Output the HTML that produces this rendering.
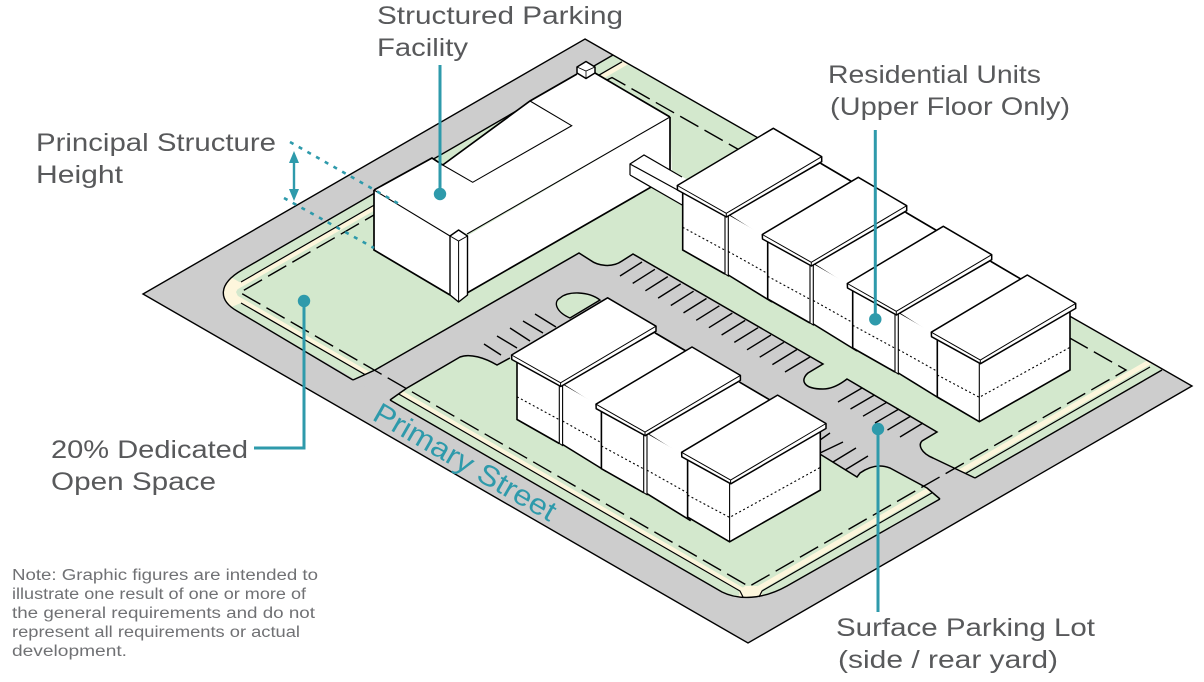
<!DOCTYPE html>
<html><head><meta charset="utf-8"><title>Site diagram</title>
<style>html,body{margin:0;padding:0;background:#fff;width:1204px;height:682px;overflow:hidden}svg{display:block}
text{font-family:"Liberation Sans",sans-serif;fill:#58595b;font-size:25px}
.n{font-size:15.5px;fill:#707174}</style></head><body>
<svg width="1204" height="682" viewBox="0 0 1204 682" xmlns="http://www.w3.org/2000/svg">
<defs>
<clipPath id="gc"><path d="M613,55 L1162,370 L787,586 C762,600 738,600 722,592 L237,311 C218,300 218,284 242,270 Z"/></clipPath>
<g id="low">
<path d="M728.3,214.5 L820,163 L870,192 L778,246 Z" fill="#fff" stroke="#000" stroke-width="1.1"/>
<path d="M728.3,215 L772,240 L772,302 L728.3,275 Z" fill="#fff"/>
<path d="M728.3,275 L772,302" stroke="#000" stroke-width="1.6" fill="none"/>
<path d="M821,163.5 L866,190" stroke="#000" stroke-width="1.6" fill="none"/>
<path d="M728.3,251.5 L772,276" stroke="#000" stroke-width="1.1" stroke-dasharray="2 2.5" fill="none"/>
</g>
<g id="unit">
<path d="M682.7,193 L725,216 L725,274 L682.7,250 Z" fill="#fff"/>
<path d="M682.7,193 V250 L725,274" stroke="#000" stroke-width="1.6" fill="none"/>
<path d="M682.7,227.3 L728.3,252" stroke="#000" stroke-width="1.1" stroke-dasharray="2 2.5" fill="none"/>
<path d="M725,216 V274 L728.3,276 V216" fill="#fff" stroke="#000" stroke-width="1.1"/>
<path d="M677.3,185.5 L773.3,128.3 L821.7,156.7 V161.7 L726.5,217 L677.5,190 Z" fill="#fff" stroke="#000" stroke-width="1.5" stroke-linejoin="round"/>
<path d="M677.3,185.5 L726.3,213.3 L821.7,156.7 M726.3,213.3 V217" stroke="#000" stroke-width="1" fill="none"/>
</g>
<g id="last">
<path d="M683.3,193 L725.3,216 L725.3,275 L683.3,250.3 Z" fill="#fff"/>
<path d="M725.3,216 L816,162 V223.3 L725.3,275 Z" fill="#fff"/>
<path d="M683.3,193 V250.3 L725.3,275 L816,223.3 V162" stroke="#000" stroke-width="1.6" fill="none"/>
<path d="M725.3,216 V275" stroke="#000" stroke-width="1.1"/>
<path d="M683.3,228.3 L725.3,250.6 L816,200.6" stroke="#000" stroke-width="1.1" stroke-dasharray="2 2.5" fill="none"/>
<path d="M677.3,185.5 L773.3,128.3 L821.7,156.7 V161.7 L726.5,217 L677.5,190 Z" fill="#fff" stroke="#000" stroke-width="1.5" stroke-linejoin="round"/>
<path d="M677.3,185.5 L726.3,213.3 L821.7,156.7 M726.3,213.3 V217" stroke="#000" stroke-width="1" fill="none"/>
</g>
</defs>

<!-- parcel -->
<polygon points="585,39 1192,386 748,643 143,294" fill="#cdcdcd"/>
<!-- green strip -->
<path d="M613,55 L1162,370 L787,586 C762,600 738,600 722,592 L237,311 C218,300 218,284 242,270 Z" fill="#d3e8cd"/>
<g clip-path="url(#gc)">
<path d="M640,54.5 L227,292.5 L749,594 L1165,353" fill="none" stroke="#fdf6dc" stroke-width="5" stroke-linejoin="miter"/>
<polygon points="241,283 229,276 218,292 229,308 241,303 236,292" fill="#fdf6dc"/>
<polygon points="740,590 745,586 757,586 762,590 762,600 738,600" fill="#fdf6dc"/>
</g>
<path d="M622,61.8 L241,282 M241,303 L740,591 L743,597 M759,597 L762,591 L1150,367" fill="none" stroke="#000" stroke-width="1.2"/>

<!-- parking -->
<path d="M353,380 L375,370 L579,253 L590,260 C598,266 612,268 622,261 L633,254 L823,364 L808,373 C800,380 803,389 823,389 C830,389 838,386 847,379 L937,432 L922,441 C918,445 921,453 933,458 L975,478 L940,499 L927,488 L890,468 C880,464 870,466 860,473 L857,477 L820,453 L510,358 L497,365 C485,358 470,353 460,357 L407,388 L390,400 Z" fill="#cdcdcd"/>
<path d="M353,380 L375,370 L579,253 L590,260 C598,266 612,268 622,261 L633,254 L823,364 L808,373 C800,380 803,389 823,389 C830,389 838,386 847,379 L937,432 L922,441 C918,445 921,453 933,458 L975,478 M940,499 L927,488 L890,468 C880,464 870,466 860,473 L857,477 L815,451 M510,358 L497,365 C485,358 470,353 460,357 L407,388 L390,400" fill="none" stroke="#000" stroke-width="1.5"/>
<path d="M570,318 C556,312 553,302 560,298 C568,291 588,291 600,300 Z" fill="#d3e8cd" stroke="#000" stroke-width="1.4"/>
<path d="M620,276L642,262M632.7,283.4L654.9,269.3M645.4,290.8L667.8,276.6M658.1,298.1L680.7,283.9M670.8,305.5L693.6,291.2M683.5,312.9L706.5,298.5M696.2,320.3L719.4,305.8M708.9,327.7L732.3,313.1M721.6,335L745.2,320.4M734.3,342.4L758.1,327.7M747,349.8L771,335M759.7,357.2L783.9,342.3M772.4,364.6L796.8,349.6M785,372L810,357
M838,402L862,388M850.5,409L874.5,395M863,416.2L887,402.2M875,423L899,409M887.5,430L911,416M900,437L923,423
M820,440L830,433M820,453L843,442M833,462L856,448M845,470L868,456
M484,344L501,355M497,336L517,348M510,328L530,341M523,321L543,333M535,314L556,327" stroke="#000" stroke-width="1.4" fill="none"/>

<!-- setback dashes -->
<path d="M607,80 L612,77.5 L1126,370 L749,586.5 L240,292.5 L590,90" fill="none" stroke="#000" stroke-width="1.4" stroke-dasharray="21 7"/>

<!-- road edges -->
<path d="M613,55 L242,270 C218,284 218,300 237,311 L353,380" fill="none" stroke="#000" stroke-width="1.4"/>
<path d="M390,400 L722,592 C738,600 762,600 787,586 L940,499" fill="none" stroke="#000" stroke-width="1.4"/>
<path d="M975,478 L1162,370" fill="none" stroke="#000" stroke-width="1.4"/>
<polygon points="585,39 1192,386 748,643 143,294" fill="none" stroke="#000" stroke-width="1.4"/>

<!-- main building -->
<polygon points="374,190 450,236 450,295 374,250" fill="#fff"/>
<polygon points="467,236 670,117 672,175 467,293" fill="#fff"/>
<path d="M374,190 V250 L450,295" stroke="#000" stroke-width="1.7" fill="none"/>
<path d="M467,293 L672,175 M670,117 V175" stroke="#000" stroke-width="1.7" fill="none"/>
<polygon points="374,190 432,158 442.7,165 530,101 577,74 595,73 670,117 467,234 458,230 450,236" fill="#fff"/>
<path d="M374,190 L432,158 L442.7,165 M442.7,165 L530,101 L577,74 M595,73 L670,117" stroke="#000" stroke-width="1.7" fill="none"/>
<path d="M374,190 L450,236 M670,117 L467,234" stroke="#000" stroke-width="1.1" fill="none"/>
<path d="M442.7,165 L472.7,182.3 L571.7,125.7 L530,101" stroke="#000" stroke-width="1.1" fill="none"/>
<path d="M450,236 L458.6,230 L467.5,236 V295 L458.6,302 L450,295 Z" fill="#fff" stroke="#000" stroke-width="1.4" stroke-linejoin="round"/>
<path d="M450,236 L458.6,241 L467.5,236 M458.6,241 V302" stroke="#000" stroke-width="1" fill="none"/>
<path d="M577,67 L586,61.5 L595,67 V73 L586,78.5 L577,73 Z" fill="#fff" stroke="#000" stroke-width="1.5" stroke-linejoin="round"/>
<path d="M577,67 L586,71 L595,67 M586,71 V78" stroke="#000" stroke-width=".8" fill="none"/>

<!-- walkway -->
<path d="M630,164 L644,155 L695,184 L684,206 L630,175 Z" fill="#fff"/>
<path d="M630,175 V164 L644,155 L682,177 M630,164 L683,193 M630,175 L683,205.5" stroke="#000" stroke-width="1.2" fill="none"/>

<!-- upper row -->
<use href="#low"/>
<use href="#unit"/>
<use href="#low" x="85" y="49"/>
<use href="#unit" x="85" y="49"/>
<use href="#low" x="170" y="98"/>
<use href="#unit" x="170" y="98"/>
<use href="#last" x="254" y="146.7"/>

<!-- lower row -->
<use href="#low" x="-165.7" y="169.5"/>
<use href="#unit" x="-165.7" y="169.5"/>
<use href="#low" x="-81.3" y="218.7"/>
<use href="#unit" x="-81.3" y="218.7"/>
<use href="#last" x="4.3" y="266.8"/>

<!-- annotations -->
<g stroke="#2e9aab" fill="none">
<path d="M290,142 L401,205 M284,198 L374,248" stroke-width="2.6" stroke-dasharray="4 6"/>
<path d="M294,156 V196" stroke-width="2.4"/>
<path d="M440,65 V194 M875.3,130 V319 M304,301 V448 H254 M878,428 V612" stroke-width="3"/>
</g>
<g fill="#2e9aab">
<polygon points="294,151 289,163 299,163"/>
<polygon points="294,201 289,189 299,189"/>
<circle cx="440" cy="194" r="6.2"/>
<circle cx="875.3" cy="319.3" r="6.2"/>
<circle cx="304" cy="301" r="6.2"/>
<circle cx="878" cy="429" r="6.2"/>
</g>

<!-- labels -->
<text x="377" y="24" textLength="246" lengthAdjust="spacingAndGlyphs">Structured Parking</text>
<text x="377" y="56" textLength="91" lengthAdjust="spacingAndGlyphs">Facility</text>
<text x="36" y="151" textLength="240" lengthAdjust="spacingAndGlyphs">Principal Structure</text>
<text x="36" y="183" textLength="87" lengthAdjust="spacingAndGlyphs">Height</text>
<text x="828" y="83" textLength="213" lengthAdjust="spacingAndGlyphs">Residential Units</text>
<text x="830" y="115" textLength="240" lengthAdjust="spacingAndGlyphs">(Upper Floor Only)</text>
<text x="51" y="458" textLength="197" lengthAdjust="spacingAndGlyphs">20% Dedicated</text>
<text x="51" y="490" textLength="165" lengthAdjust="spacingAndGlyphs">Open Space</text>
<text x="836" y="636" textLength="259" lengthAdjust="spacingAndGlyphs">Surface Parking Lot</text>
<text x="838" y="668" textLength="220" lengthAdjust="spacingAndGlyphs">(side / rear yard)</text>
<text class="n" x="12" y="580" textLength="306" lengthAdjust="spacingAndGlyphs">Note: Graphic figures are intended to</text>
<text class="n" x="12" y="599" textLength="294" lengthAdjust="spacingAndGlyphs">illustrate one result of one or more of</text>
<text class="n" x="12" y="618" textLength="303" lengthAdjust="spacingAndGlyphs">the general requirements and do not</text>
<text class="n" x="12" y="637" textLength="288" lengthAdjust="spacingAndGlyphs">represent all requirements or actual</text>
<text class="n" x="12" y="656" textLength="115" lengthAdjust="spacingAndGlyphs">development.</text>
<text transform="translate(371,419) rotate(30)" textLength="206" lengthAdjust="spacingAndGlyphs" style="font-size:29px;fill:#2e9aab">Primary Street</text>
</svg>
</body></html>
